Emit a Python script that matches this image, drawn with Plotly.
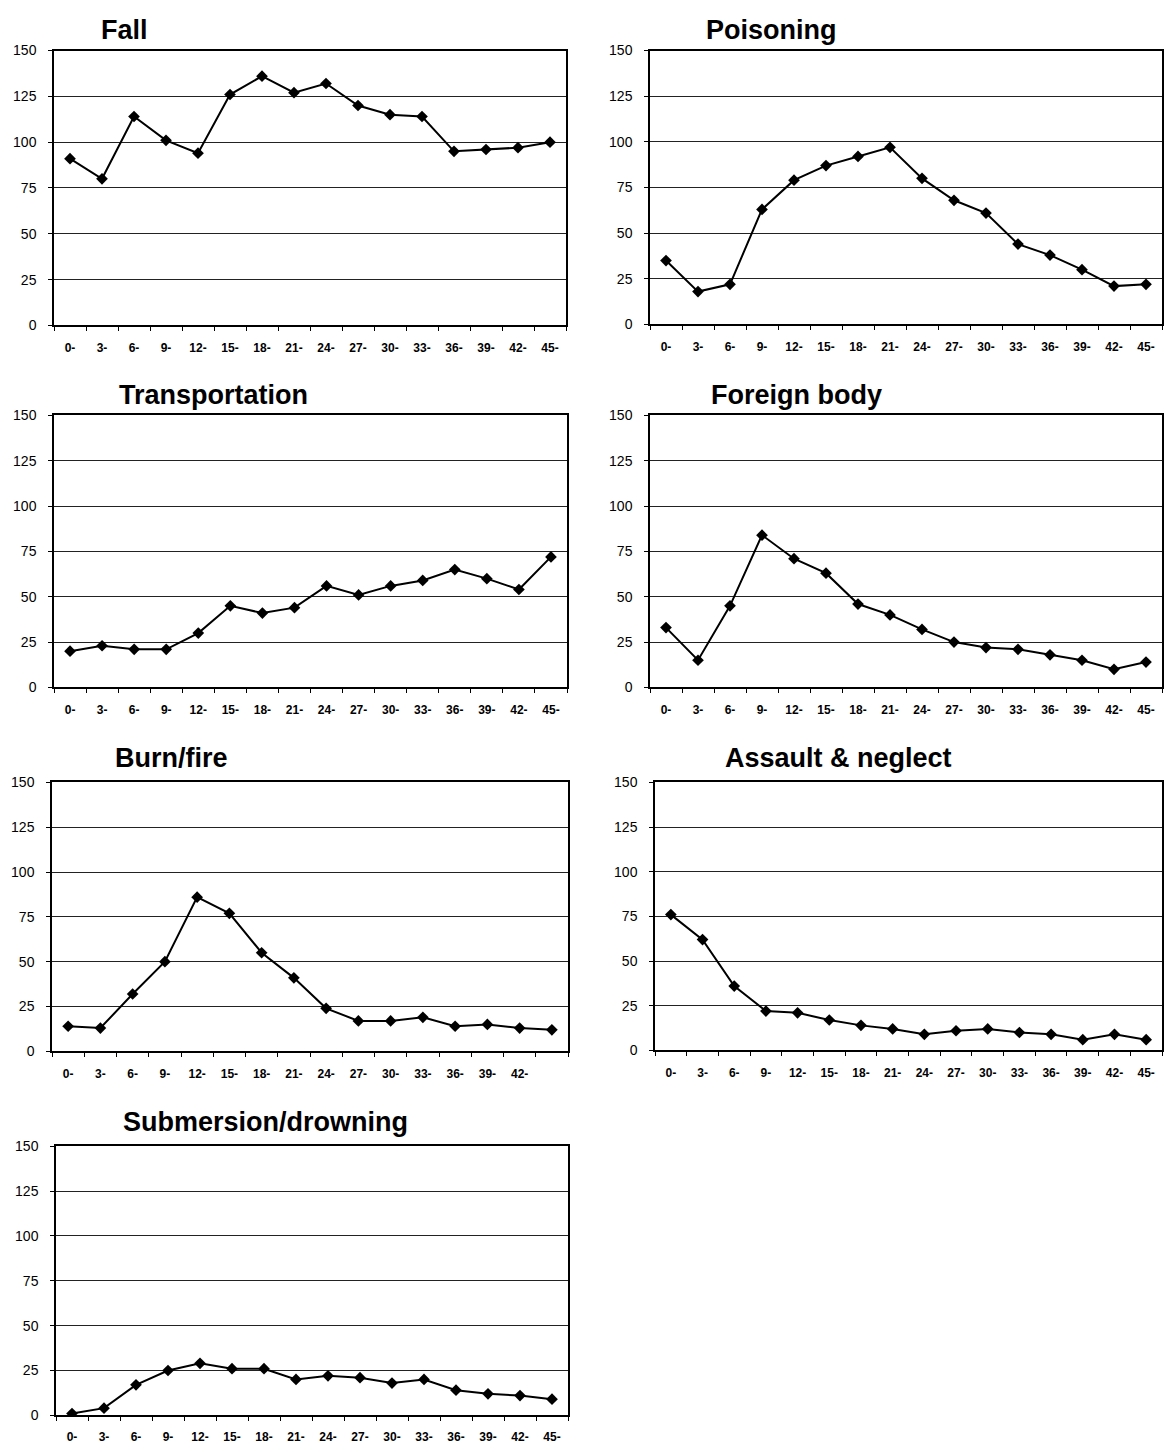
import plotly.graph_objects as go

W, H = 1166, 1452

age_groups = ["0-", "3-", "6-", "9-", "12-", "15-", "18-", "21-",
              "24-", "27-", "30-", "33-", "36-", "39-", "42-", "45-"]
burn_tick_labels = ["0-", "3-", "6-", "9-", "12-", "15-", "18-", "21-",
                    "24-", "27-", "30-", "33-", "36-", "39-", "42-", ""]
y_ticks = [0, 25, 50, 75, 100, 125, 150]

fall = [91, 80, 114, 101, 94, 126, 136, 127, 132, 120, 115, 114, 95, 96, 97, 100]
poisoning = [35, 18, 22, 63, 79, 87, 92, 97, 80, 68, 61, 44, 38, 30, 21, 22]
transportation = [20, 23, 21, 21, 30, 45, 41, 44, 56, 51, 56, 59, 65, 60, 54, 72]
foreign_body = [33, 15, 45, 84, 71, 63, 46, 40, 32, 25, 22, 21, 18, 15, 10, 14]
burn_fire = [14, 13, 32, 50, 86, 77, 55, 41, 24, 17, 17, 19, 14, 15, 13, 12]
assault_neglect = [76, 62, 36, 22, 21, 17, 14, 12, 9, 11, 12, 10, 9, 6, 9, 6]
submersion = [1, 4, 17, 25, 29, 26, 26, 20, 22, 21, 18, 20, 14, 12, 11, 9]

titles = ["Fall", "Poisoning", "Transportation", "Foreign body",
          "Burn/fire", "Assault & neglect", "Submersion/drowning"]
series = [fall, poisoning, transportation, foreign_body,
          burn_fire, assault_neglect, submersion]
tick_label_sets = [age_groups, age_groups, age_groups, age_groups,
                   burn_tick_labels, age_groups, age_groups]

# plot boxes in pixels: (left, right, top, bottom)
boxes = [(54, 566, 43, 321), (650, 1162, 43, 320),
         (54, 567, 412, 687), (650, 1162, 412, 687),
         (52, 568, 783, 1055), (655, 1162, 783, 1054),
         (56, 568, 1151, 1423)]
title_pos = [(124, 22), (771, 22), (213, 391), (796, 391),
             (171, 758), (838, 758), (265, 1126)]

FONT = "Liberation Sans, Arial, Helvetica, sans-serif"

fig = go.Figure()
layout = dict(width=W, height=H, margin=dict(l=0, r=0, t=0, b=0),
              paper_bgcolor="white", plot_bgcolor="white", showlegend=False,
              annotations=[])

for i, (title, vals, tlabels, box, tp) in enumerate(
        zip(titles, series, tick_label_sets, boxes, title_pos)):
    n = "" if i == 0 else str(i + 1)
    fig.add_trace(go.Scatter(
        x=age_groups, y=vals, mode="lines+markers",
        line=dict(color="black", width=2),
        marker=dict(symbol="diamond", size=9, color="black"),
        xaxis="x" + n, yaxis="y" + n, hoverinfo="x+y"))
    l, r, t, b = box
    layout["xaxis" + n] = dict(
        domain=[l / W, r / W], anchor="y" + n, type="category",
        categoryorder="array", categoryarray=age_groups,
        range=[-0.5, 15.5], tickvals=age_groups, ticktext=tlabels,
        tickson="boundaries", ticks="outside", ticklen=4, tickcolor="black",
        ticklabelstandoff=10,
        showline=True, linecolor="black", linewidth=1.5, mirror=True,
        showgrid=False, zeroline=False,
        tickfont=dict(family=FONT, size=12, color="black", weight="bold"))
    layout["yaxis" + n] = dict(
        domain=[1 - b / H, 1 - t / H], anchor="x" + n,
        range=[0, 150], tickvals=y_ticks, ticks="outside", ticklen=4,
        tickcolor="black", ticklabelstandoff=9,
        showline=True, linecolor="black", linewidth=1.5, mirror=True,
        showgrid=True, gridcolor="#222222", gridwidth=1, zeroline=False,
        tickfont=dict(family=FONT, size=14, color="black"))
    layout["annotations"].append(dict(
        text="<b>" + title.replace("&", "&amp;") + "</b>",
        x=tp[0] / W, y=1 - tp[1] / H, xref="paper", yref="paper",
        xanchor="center", yanchor="middle", showarrow=False,
        font=dict(family=FONT, size=27, color="black")))

fig.update_layout(**layout)
fig.write_html("out.html", config={"displayModeBar": False},
               post_script="document.body.style.margin='0';"
                           "document.body.style.padding='0';"
                           "document.documentElement.style.overflow='hidden';")
